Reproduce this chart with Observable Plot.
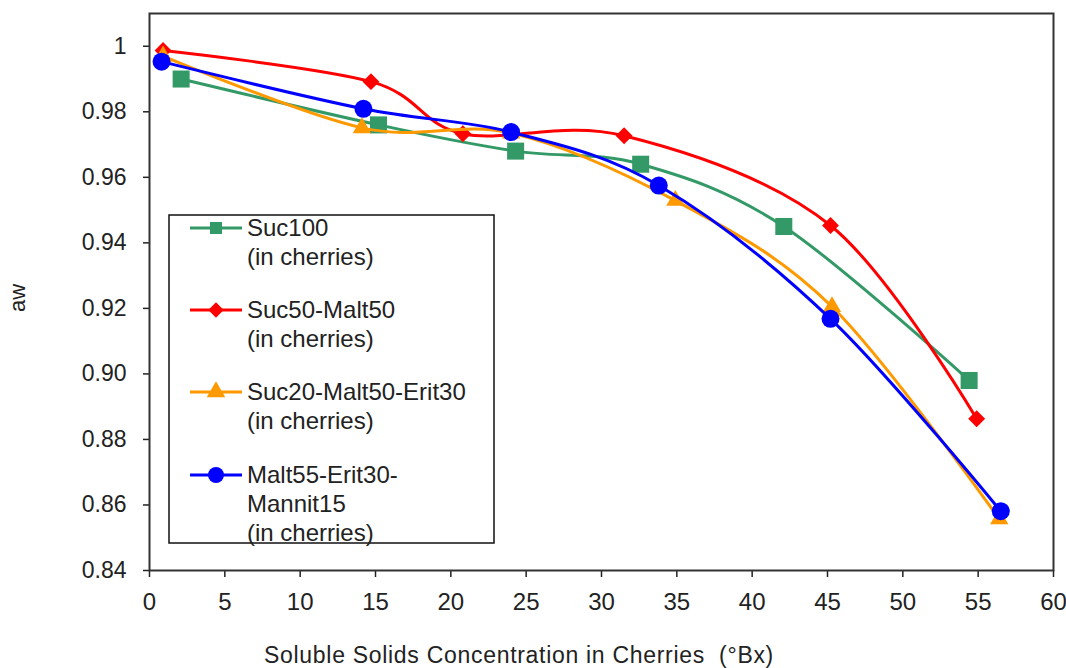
<!DOCTYPE html>
<html>
<head>
<meta charset="utf-8">
<script src="https://cdn.jsdelivr.net/npm/d3@7"></script>
<script src="https://cdn.jsdelivr.net/npm/@observablehq/plot@0.6"></script>
<style>
  html, body { margin: 0; padding: 0; background: #fff; }
  #chart { width: 1066px; height: 668px; }
</style>
</head>
<body>
<div id="chart"></div>
<script>
// ---- data ----
const seriesNames = ["Suc100", "Suc50-Malt50", "Suc20-Malt50-Erit30", "Malt55-Erit30-Mannit15"];
const legendLines = [["Suc100", "(in cherries)"], ["Suc50-Malt50", "(in cherries)"], ["Suc20-Malt50-Erit30", "(in cherries)"], ["Malt55-Erit30-", "Mannit15", "(in cherries)"]];
const suc100X = [2.1, 15.2, 24.3, 32.6, 42.1, 54.4];
const suc100Y = [0.990, 0.976, 0.968, 0.964, 0.945, 0.898];
const sucMaltX = [0.9, 14.7, 20.8, 31.5, 45.2, 54.9];
const sucMaltY = [0.9987, 0.9892, 0.9733, 0.9727, 0.9453, 0.8863];
const sucMaltEritX = [0.9, 14.1, 24.0, 34.9, 45.3, 56.4];
const sucMaltEritY = [0.997, 0.9751, 0.9735, 0.9529, 0.9205, 0.8557];
const maltEritMannX = [0.8, 14.2, 24.0, 33.8, 45.2, 56.5];
const maltEritMannY = [0.9953, 0.9809, 0.9738, 0.9575, 0.9168, 0.8581];
const xTicks = [0, 5, 10, 15, 20, 25, 30, 35, 40, 45, 50, 55, 60];
const yTicks = [0.84, 0.86, 0.88, 0.90, 0.92, 0.94, 0.96, 0.98, 1.00];
const xTitle = "Soluble Solids Concentration in Cherries  (°Bx)";
const yTitle = "aw";

// ---- styling ----
const colors = ["#339966", "#ff0000", "#ff9900", "#0000ff"];
const symbols = ["square", "diamond2", "triangle", "circle"];
const symbolR = [9.6, 7.6, 6.8, 9];
const xsAll = [suc100X, sucMaltX, sucMaltEritX, maltEritMannX];
const ysAll = [suc100Y, sucMaltY, sucMaltEritY, maltEritMannY];

const series = seriesNames.map((name, i) => xsAll[i].map((x, j) => ({series: name, x, y: ysAll[i][j]})));

const marks = [
  Plot.axisX({ticks: xTicks, tickSize: 7, tickPadding: 15, label: null, fontSize: 24,
              fontFamily: "'Liberation Sans', Arial, sans-serif", color: "#222", strokeWidth: 1.5}),
  Plot.axisY({ticks: yTicks, tickSize: 6, tickPadding: 17, label: null, fontSize: 23,
              tickFormat: d => d === 1 ? "1" : d.toFixed(2),
              fontFamily: "'Liberation Sans', Arial, sans-serif", color: "#222", strokeWidth: 1.5}),
  Plot.frame({stroke: "#333", strokeWidth: 2})
];
series.forEach((data, i) => {
  marks.push(Plot.line(data, {x: "x", y: "y", stroke: colors[i], strokeWidth: 3, curve: "cardinal", tension: 0}));
  marks.push(Plot.dot(data, {x: "x", y: "y", symbol: () => symbols[i], r: symbolR[i], fill: colors[i], stroke: "none"}));
});

const plot = Plot.plot({
  width: 1066,
  height: 668,
  marginLeft: 149,
  marginRight: 13,
  marginTop: 13,
  marginBottom: 98,
  style: {background: "#fff", fontFamily: "'Liberation Sans', Arial, sans-serif"},
  x: {domain: [0, 60]},
  y: {domain: [0.84, 1.01]},
  symbol: {type: "identity"},
  marks
});
document.getElementById("chart").appendChild(plot);

// ---- titles and legend ----
const svg = d3.select(plot);
svg.append("text")
  .attr("x", 519).attr("y", 663)
  .attr("text-anchor", "middle")
  .attr("font-family", "'Liberation Sans', Arial, sans-serif")
  .attr("font-size", 23).attr("letter-spacing", 0.7).attr("fill", "#222")
  .text(xTitle);
svg.append("text")
  .attr("transform", "translate(25,298) rotate(-90)")
  .attr("text-anchor", "middle")
  .attr("font-family", "'Liberation Sans', Arial, sans-serif")
  .attr("font-size", 22).attr("fill", "#222")
  .text(yTitle);

const lg = svg.append("g").attr("text-anchor", "start");
lg.append("rect").attr("x", 169).attr("y", 215).attr("width", 325).attr("height", 328)
  .attr("fill", "#fff").attr("stroke", "#111").attr("stroke-width", 1.5);
const entryY = [228, 310, 392, 475];
const legendSym = [d3.symbolSquare, d3.symbolDiamond2, d3.symbolTriangle, d3.symbolCircle];
const legendSize = [144, 150, 150, 200];
seriesNames.forEach((name, i) => {
  const cy = entryY[i];
  lg.append("line").attr("x1", 190).attr("x2", 242).attr("y1", cy).attr("y2", cy)
    .attr("stroke", colors[i]).attr("stroke-width", 3);
  lg.append("path").attr("d", d3.symbol(legendSym[i], legendSize[i])())
    .attr("transform", `translate(216,${cy})`).attr("fill", colors[i]);
  legendLines[i].forEach((t, k) => {
    lg.append("text").attr("x", 247).attr("y", cy + k * 29)
      .attr("dy", "0.35em")
      .attr("text-anchor", "start")
      .attr("font-family", "'Liberation Sans', Arial, sans-serif")
      .attr("font-size", 24).attr("fill", "#222")
      .text(t);
  });
});
</script>
</body>
</html>
